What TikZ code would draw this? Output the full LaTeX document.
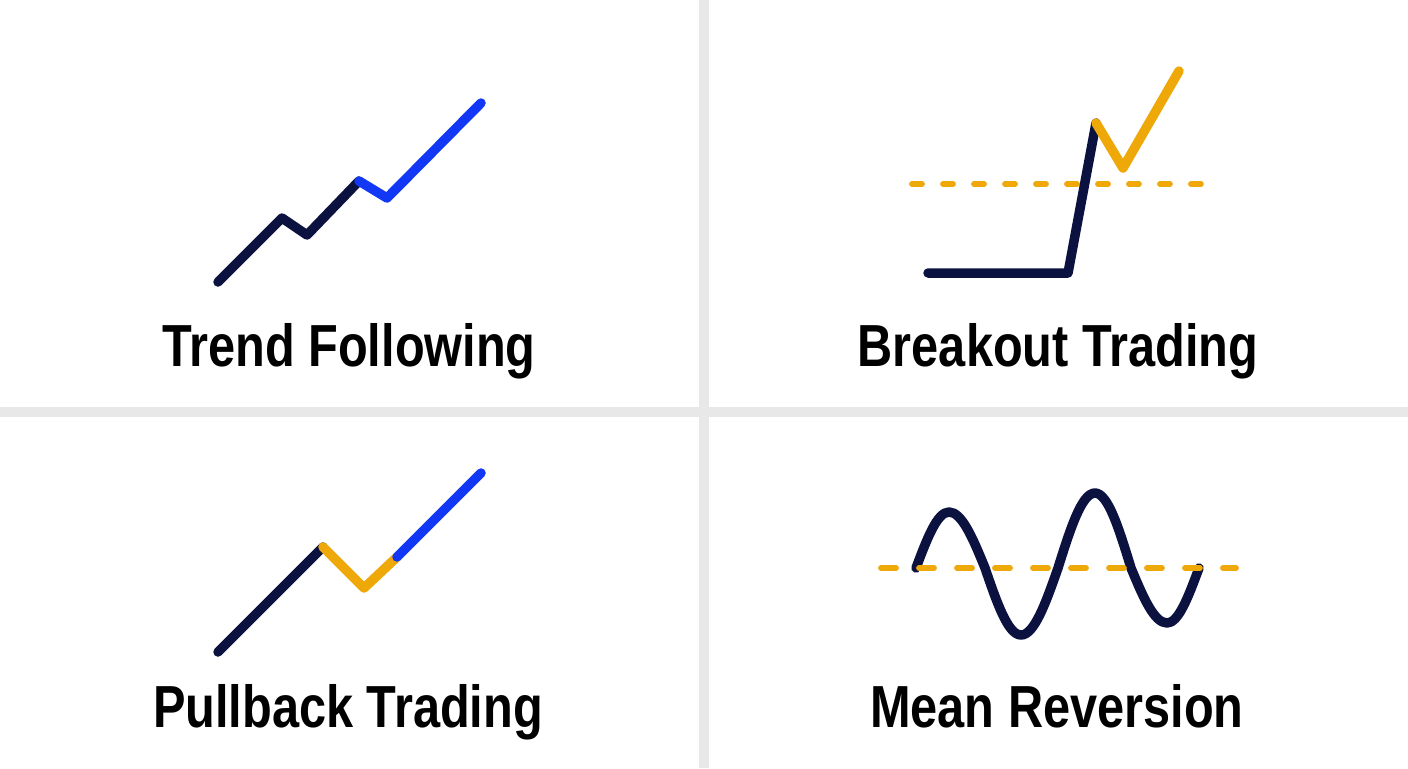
\documentclass[tikz,border=0pt]{standalone}
\usepackage{fontspec}
\setmainfont[FakeStretch=0.82]{Liberation Sans}
\usepackage{tikz}
\usetikzlibrary{arrows}
\definecolor{navy}{HTML}{0B1240}
\definecolor{brightblue}{HTML}{1238F5}
\definecolor{gold}{HTML}{EEA808}
\definecolor{gridgray}{HTML}{E8E8E8}

\begin{document}
\begin{tikzpicture}[x=0.02cm,y=-0.02cm,
    chart/.style={line width=0.19cm,line cap=round,line join=round},
    level/.style={line width=0.115cm,line cap=round,gold},
    divider/.style={line width=0.2cm,gridgray},
    title/.style={font=\fontsize{33.8}{40}\selectfont\bfseries,anchor=base}]
			\fill[white] (0,0) rectangle (1408,768);
			\useasboundingbox (0,0) rectangle (1408,768);
			\draw[divider] (704,0) -- (704,768);
			\draw[divider] (0,412) -- (1408,412);
			% trend following
			\draw[chart,navy] (218,282) -- (282,218) -- (307,235) -- (359,181);
			\draw[chart,brightblue] (359,181) -- (387,198) -- (481,103);
			% breakout trading
			\draw[level,dash pattern=on 0.2cm off 0.42cm] (912,184) -- (1208,184);
			\draw[chart,navy] (928,273) -- (1068,273) -- (1096,123);
			\draw[chart,gold] (1096,123) -- (1123,168) -- (1179,71);
			% pullback trading
			\draw[chart,navy] (218,652) -- (323,547);
			\draw[chart,gold] (323,547) -- (364,588) -- (397,557);
			\draw[chart,brightblue] (397,557) -- (481,473);
			% mean reversion
			\draw[chart,navy] (916,568) sin (949,512) cos (985,568) sin (1021,635)
				cos (1058,568) sin (1095,493) cos (1131,568) sin (1167,623) cos (1199,568);
			\draw[level,dash pattern=on 0.3cm off 0.46cm] (881,568) -- (1236,568);
			\foreach \name/\x/\y/\txt in {trend/349/366/Trend Following,
				breakout/1058/366/Breakout Trading,
				pullback/348/727/Pullback Trading,
				meanrev/1057/727/Mean Reversion} {
				\node[title] (\name) at (\x,\y) {\txt};
			}
		\end{tikzpicture}
\end{document}
